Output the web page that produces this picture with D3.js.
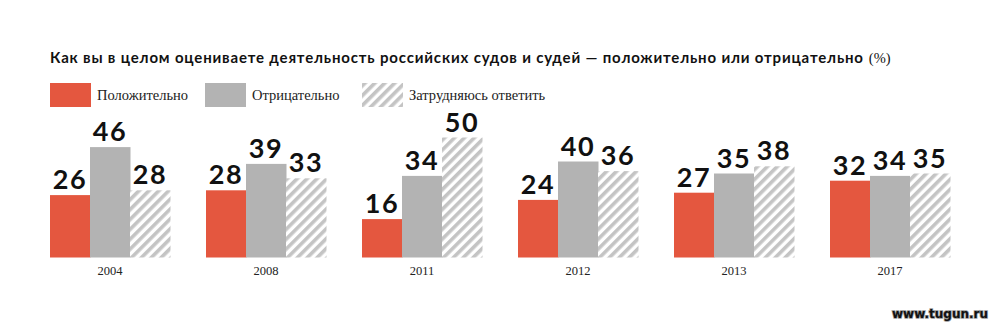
<!DOCTYPE html>
<html><head><meta charset="utf-8">
<script src="https://cdn.jsdelivr.net/npm/d3@7"></script>
<style>body{margin:0;background:#fff}</style>
</head><body>
<script>
const years = ["2004","2008","2011","2012","2013","2017"];
const series = ["Положительно","Отрицательно","Затрудняюсь ответить"];
const positive = [26,28,16,24,27,32];
const negative = [46,39,34,40,35,34];
const hard = [28,33,50,36,38,35];
const titleText = "Как вы в целом оцениваете деятельность российских судов и судей — положительно или отрицательно";
const unitText = "(%)";

const W=1000,H=330;
const svg=d3.select("body").append("svg").attr("width",W).attr("height",H);
const defs=svg.append("defs");
const pat=defs.append("pattern").attr("id","hatch").attr("patternUnits","userSpaceOnUse")
 .attr("width",7).attr("height",7).attr("patternTransform","rotate(45)");
pat.append("rect").attr("width",7).attr("height",7).attr("fill","#fff");
pat.append("rect").attr("x",0).attr("width",3.6).attr("height",7).attr("fill","#c4c4c4");

const colors=["#e4573f","#b3b3b3","url(#hatch)"];
const data=years.map((y,i)=>({year:y,vals:[positive[i],negative[i],hard[i]]}));

const x0=d3.scaleBand().domain(years).range([50,950]).paddingInner(36/156).paddingOuter(0);
const x1=d3.scaleBand().domain([0,1,2]).range([0,x0.bandwidth()]);
const y=d3.scaleLinear().domain([0,50]).range([257.5,137.5]);

// title
const t=svg.append("text").attr("x",50).attr("y",63).attr("font-family","Lato, sans-serif")
 .attr("font-weight",700).attr("font-size",15).attr("fill","#111");
const t1=t.append("tspan").text(titleText);
t.append("tspan").attr("font-family","Liberation Serif, serif").attr("font-weight",400).attr("font-size",14.5).attr("dx",5).text(unitText);
t1.attr("textLength",813).attr("lengthAdjust","spacing");

// legend
const legX=[50,205,362];
const lg=svg.append("g");
series.forEach((s,i)=>{
  lg.append("rect").attr("x",legX[i]).attr("y",83).attr("width",41).attr("height",24).attr("fill",colors[i]);
  lg.append("text").attr("x",legX[i]+47).attr("y",100).attr("font-family","Liberation Serif, serif")
   .attr("font-size",14.5).attr("fill","#222").text(s);
});

const g=svg.selectAll("g.grp").data(data).enter().append("g").attr("class","grp")
 .attr("transform",d=>`translate(${x0(d.year)},0)`);
g.selectAll("rect").data(d=>d.vals).enter().append("rect")
 .attr("x",(d,i)=>x1(i)).attr("width",x1.bandwidth()+0.5)
 .attr("y",d=>y(d)).attr("height",d=>y(0)-y(d)).attr("fill",(d,i)=>colors[i]);
g.selectAll("text.v").data(d=>d.vals).enter().append("text").attr("class","v")
 .attr("x",(d,i)=>x1(i)+x1.bandwidth()/2).attr("y",d=>y(d)-6)
 .attr("text-anchor","middle").attr("font-family","Lato, sans-serif").attr("font-weight",700)
 .attr("font-size",27).attr("letter-spacing",1.5).attr("fill","#111").text(d=>d);

// x axis labels
const ax=d3.axisBottom(x0).tickSize(0).tickPadding(0);
const axg=svg.append("g").attr("transform","translate(0,266)").call(ax);
axg.select(".domain").remove();
axg.selectAll("text").attr("font-family","Liberation Serif, serif").attr("font-size",12.5).attr("fill","#222").attr("dy","0.71em");

// watermark
svg.append("text").attr("x",988).attr("y",318).attr("text-anchor","end")
 .attr("font-family","DejaVu Sans, sans-serif").attr("font-weight",700).attr("font-size",12)
 .attr("fill","#111").attr("stroke","#999").attr("stroke-width",1.5).attr("paint-order","stroke")
 .text("www.tugun.ru");
</script>
</body></html>
